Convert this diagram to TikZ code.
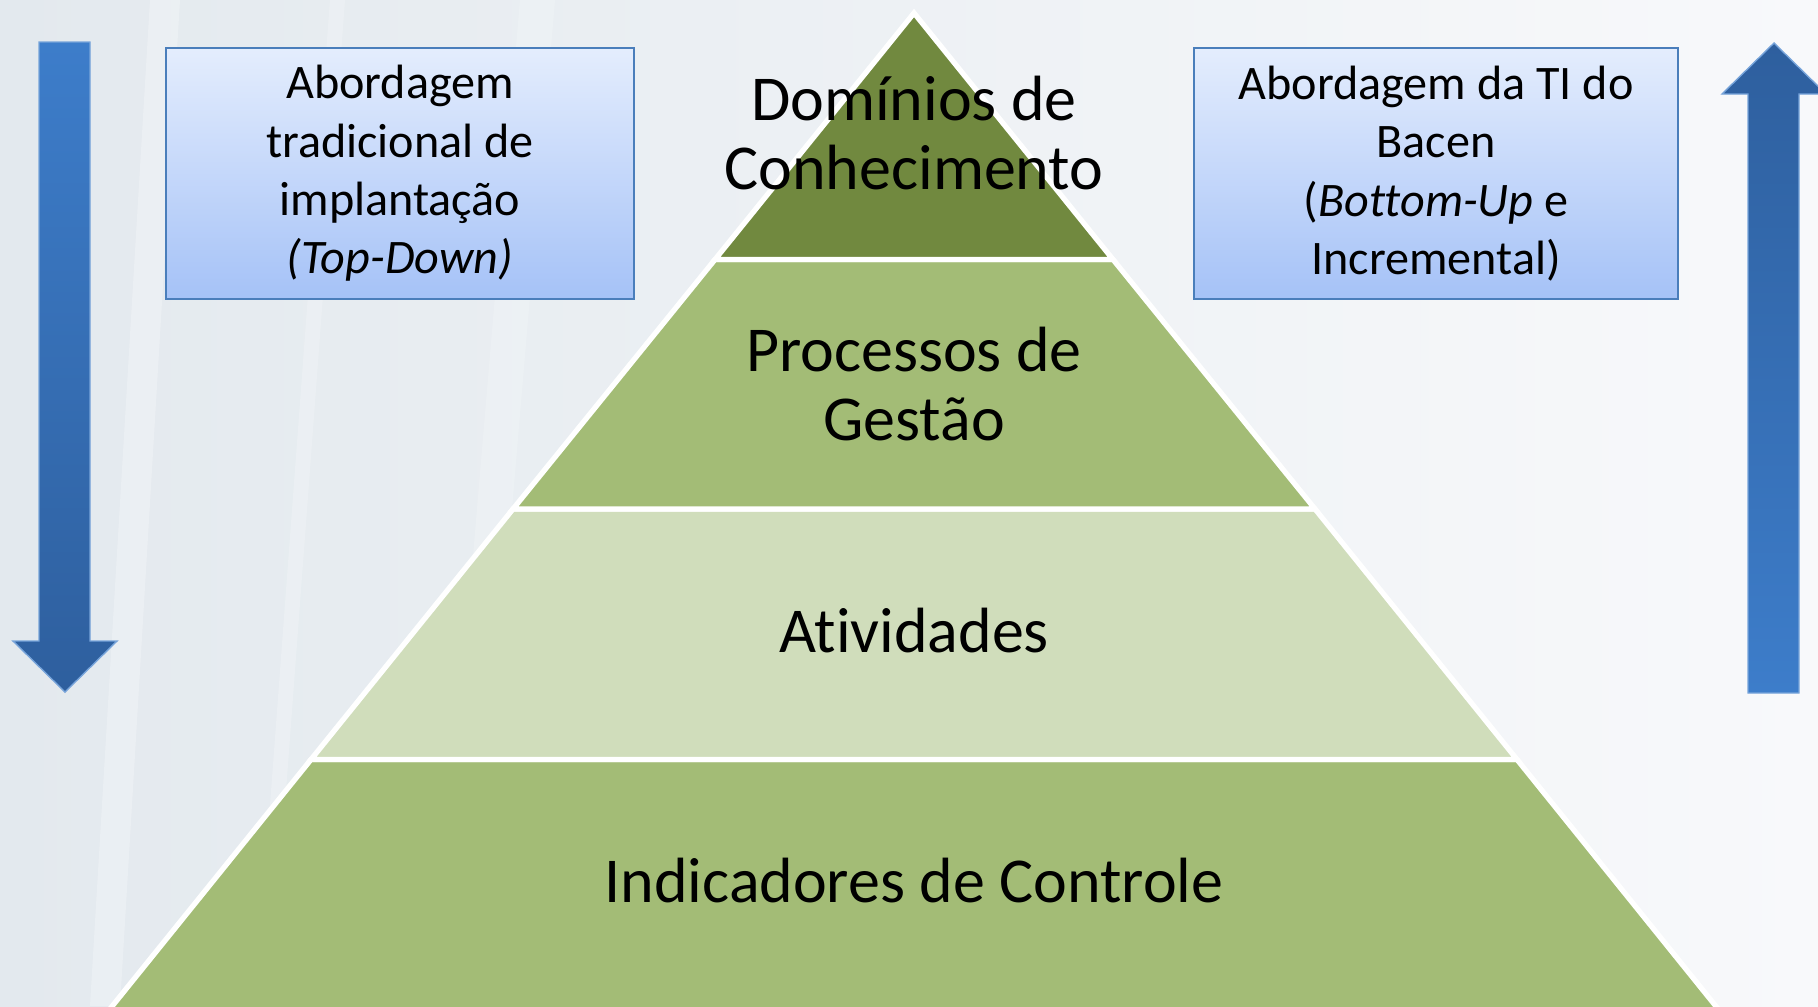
\documentclass[tikz,border=0pt]{standalone}
\usepackage{fontspec}
\setmainfont{Carlito}[Ligatures=NoCommon]
\usetikzlibrary{positioning}
\definecolor{levelA}{HTML}{71893F}
\definecolor{levelB}{HTML}{A3BC76}
\definecolor{levelC}{HTML}{D0DDBB}
\definecolor{boxtop}{HTML}{E4EDFD}
\definecolor{boxbot}{HTML}{A5C2F7}
\definecolor{boxline}{HTML}{4A7EBB}
\definecolor{arrowlight}{HTML}{3D7DCA}
\definecolor{arrowdark}{HTML}{2E5F9E}
\definecolor{bgleft}{HTML}{E3E9EE}
\definecolor{bgright}{HTML}{F8F9FB}
\begin{document}
\begin{tikzpicture}[x=0.1mm,y=-0.1mm,
    layer/.style={draw=white, line width=1.5pt},
    approach/.style={draw=boxline, line width=0.7pt, top color=boxtop, bottom color=boxbot,
      align=center, inner sep=0pt, minimum height=25.1mm,
      font=\fontsize{13.7}{16.6}\selectfont},
    level/.style={align=center, font=\fontsize{18.2}{19.8}\selectfont},
    blockarrow/.style={draw=arrowlight!70!white, line width=0.4pt}]
    \useasboundingbox (0,0) rectangle (1818,1006);
    \clip (0,0) rectangle (1818,1006);
    \shade[left color=bgleft, right color=bgright] (0,0) rectangle (1818,1006);
    \fill[white, opacity=0.25] (150,0) -- (180,0) -- (120,1006) -- (90,1006) -- cycle;
    \fill[white, opacity=0.20] (330,0) -- (345,0) -- (270,1006) -- (255,1006) -- cycle;
    \fill[white, opacity=0.18] (520,0) -- (555,0) -- (470,1006) -- (435,1006) -- cycle;

    \coordinate (apex) at (914,13);
    \coordinate (L1) at (715,259.5);
    \coordinate (R1) at (1113,259.5);
    \coordinate (L2) at (513,509);
    \coordinate (R2) at (1315,509);
    \coordinate (L3) at (311,759.5);
    \coordinate (R3) at (1517,759.5);
    \coordinate (L4) at (101,1020);
    \coordinate (R4) at (1727,1020);
    \draw[layer, fill=levelB] (L3) -- (R3) -- (R4) -- (L4) -- cycle;
    \draw[layer, fill=levelC] (L2) -- (R2) -- (R3) -- (L3) -- cycle;
    \draw[layer, fill=levelB] (L1) -- (R1) -- (R2) -- (L2) -- cycle;
    \draw[layer, fill=levelA] (apex) -- (R1) -- (L1) -- cycle;

    \node[level] (domains) at (914,133) {Domínios de\\Conhecimento};
    \node[level] (processes) at (914,384) {Processos de\\Gestão};
    \node[level, anchor=base] (activities) at (914,652) {Atividades};
    \node[level, anchor=base] (indicators) at (914,902) {Indicadores de Controle};

    \node[approach, minimum width=46.8mm] (topdown) at (400,173.5)
      {Abordagem\\tradicional de\\implantação\\\textit{(Top-Down)}};
    \node[approach, minimum width=48.4mm] (bottomup) at (1436,173.5)
      {Abordagem da TI do\\Bacen\\(\textit{Bottom-Up} e\\Incremental)};

    \draw[blockarrow, top color=arrowlight, bottom color=arrowdark]
    (39,42) -- (90,42) -- (90,641) -- (117,641) -- (65,692) -- (13,641) -- (39,641) -- cycle;
    \draw[blockarrow, top color=arrowdark, bottom color=arrowlight]
    (1748,693) -- (1799,693) -- (1799,94) -- (1826,94) -- (1774,43) -- (1722,94) -- (1748,94) -- cycle;
  \end{tikzpicture}
\end{document}
